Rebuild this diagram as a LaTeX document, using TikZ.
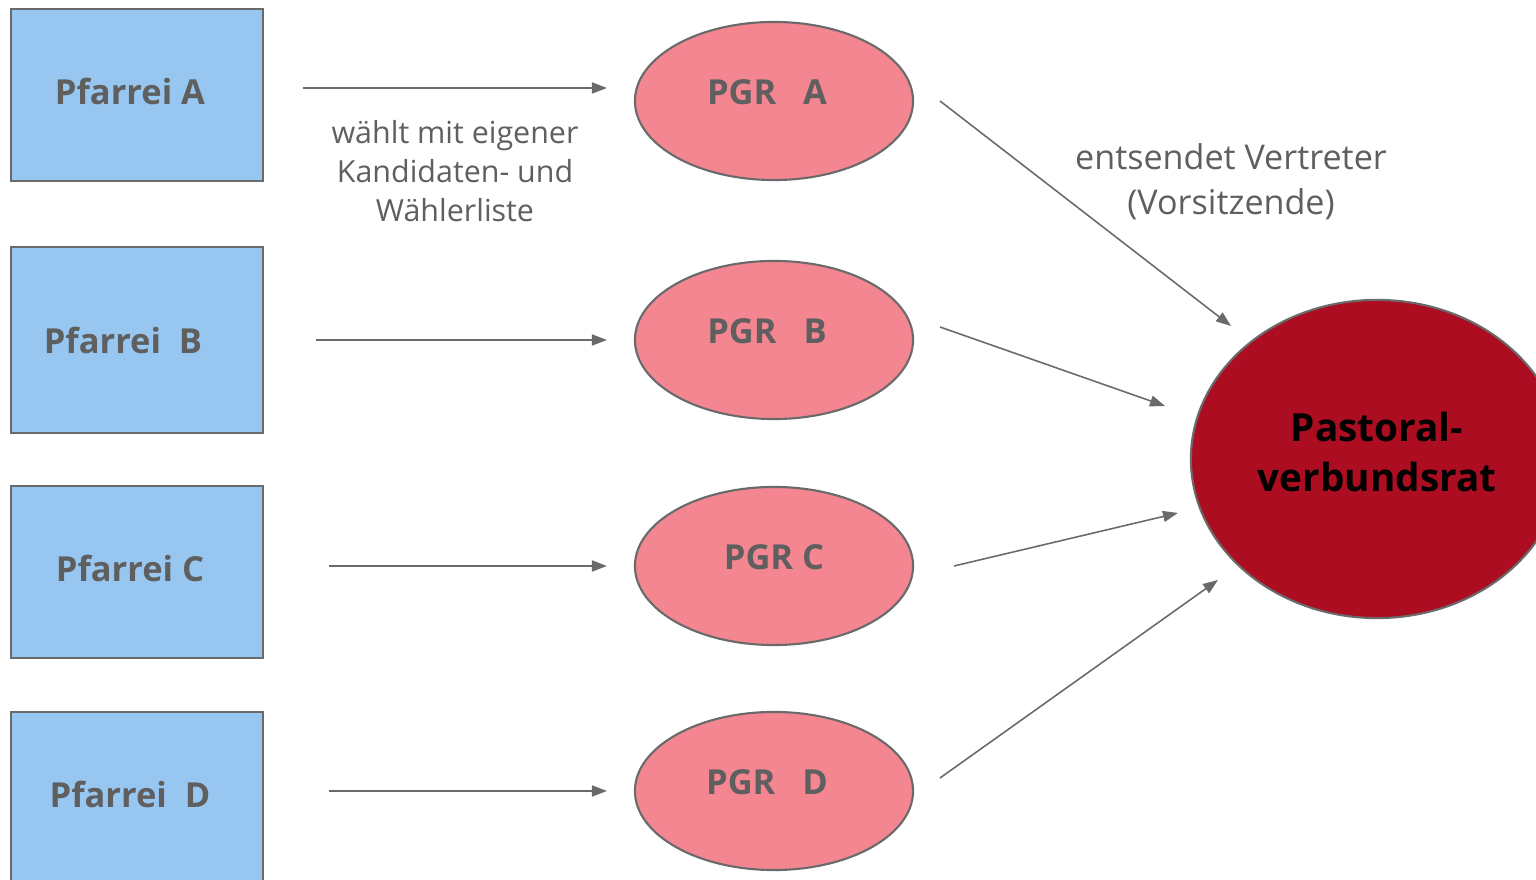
\documentclass[tikz,border=0pt]{standalone}
\usepackage{fontspec}
\setmainfont{Open Sans}
\usetikzlibrary{shapes.geometric,arrows.meta}

\definecolor{pfarreiblue}{HTML}{97C6F0}
\definecolor{pgrpink}{HTML}{F38690}
\definecolor{pvrred}{HTML}{AC0D21}
\definecolor{textgray}{HTML}{5F5F5F}
\definecolor{linegray}{HTML}{6A6A6A}

\begin{document}
\begin{tikzpicture}[x=0.01cm, y=-0.01cm,
    pfarrei/.style={draw=linegray, line width=0.6pt, fill=pfarreiblue,
      minimum width=2.52cm, minimum height=1.72cm, inner sep=0pt,
      text depth=0.08cm, text=textgray, font=\fontsize{9.8}{12}\selectfont\bfseries},
    pgr/.style={ellipse, draw=linegray, line width=0.6pt, fill=pgrpink,
      minimum width=2.78cm, minimum height=1.58cm, inner sep=0pt,
      text depth=0.18cm, text=textgray, font=\fontsize{9.8}{12}\selectfont\bfseries},
    arr/.style={draw=linegray, line width=0.45pt,
      -{Triangle[length=0.15cm,width=0.11cm]}},
    note/.style={align=center, text=textgray}]
        \useasboundingbox (0,0) rectangle (1536,880);
        \clip (0,0) rectangle (1536,880);

        % Pfarreien
        \node[pfarrei] (pfA) at (137,95) {Pfarrei A\kern0.14cm};
        \node[pfarrei, minimum height=1.86cm, text depth=0cm] (pfB) at (137,340) {Pfarrei\ \ B\kern0.28cm};
        \node[pfarrei] (pfC) at (137,572) {Pfarrei C\kern0.14cm};
        \node[pfarrei] (pfD) at (137,798) {Pfarrei\ \ D\kern0.14cm};

        % Pfarrgemeinderaete
        \node[pgr] (pgrA) at (774,101) {PGR\ \ \ A\kern0.14cm};
        \node[pgr] (pgrB) at (774,340) {PGR\ \ \ B\kern0.14cm};
        \node[pgr] (pgrC) at (774,566) {PGR C};
        \node[pgr] (pgrD) at (774,791) {PGR\ \ \ D\kern0.14cm};

        % Pastoralverbundsrat
        \node[ellipse, draw=linegray, line width=0.6pt, fill=pvrred,
          minimum width=3.72cm, minimum height=3.18cm, inner sep=0pt,
          align=center, text depth=0.15cm,
          font=\fontsize{11}{14.2}\selectfont\bfseries] (pvr) at (1377,459)
          {Pastoral-\\verbundsrat};

        % Wahl
        \coordinate (wA) at (303,88);  \coordinate (eA) at (607,88);
        \coordinate (wB) at (316,340); \coordinate (eB) at (607,340);
        \coordinate (wC) at (329,566); \coordinate (eC) at (607,566);
        \coordinate (wD) at (329,791); \coordinate (eD) at (607,791);
        \foreach \p in {A,B,C,D}
          \draw[arr] (w\p) -- (e\p);

        % Entsendung
        \coordinate (sA) at (940,101); \coordinate (tA) at (1231,326);
        \coordinate (sB) at (940,327); \coordinate (tB) at (1165,406);
        \coordinate (sC) at (954,566); \coordinate (tC) at (1178,513);
        \coordinate (sD) at (940,778); \coordinate (tD) at (1218,580);
        \foreach \p in {A,B,C,D}
          \draw[arr] (s\p) -- (t\p);

        % Labels
        \node[note, font=\fontsize{8.65}{11}\selectfont] (wahl) at (455,171)
          {wählt mit eigener\\Kandidaten- und\\Wählerliste};
        \node[note, font=\fontsize{9.7}{12.7}\selectfont] (entsendet) at (1231,182)
          {entsendet Vertreter\\(Vorsitzende)};
\end{tikzpicture}
\end{document}
